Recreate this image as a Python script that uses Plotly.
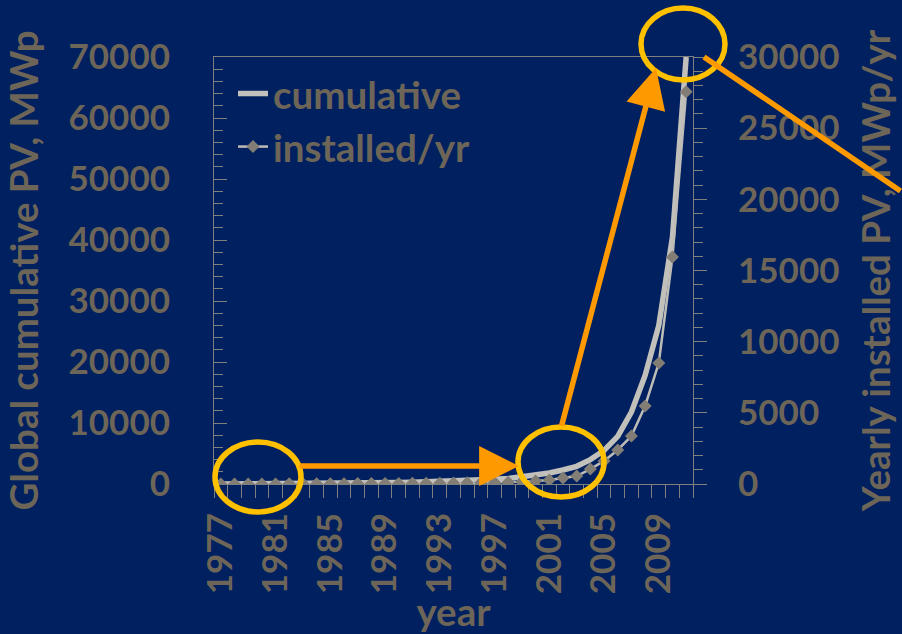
import plotly.graph_objects as go

# ---------------- data ----------------
years = list(range(1977, 2012))
cumulative = [2, 4, 6, 10, 16, 25, 40, 60, 80, 100, 130, 160, 200, 240, 290, 340,
              400, 470, 550, 640, 770, 920, 1150, 1450, 1800, 2300, 2900, 4000,
              5500, 7800, 11800, 17800, 26000, 40500, 70000]
installed = [1, 2, 2, 4, 6, 9, 15, 20, 20, 20, 30, 30, 40, 40, 50, 50, 60, 70, 80,
             90, 110, 120, 150, 210, 280, 420, 560, 1050, 1620, 2390, 3370, 5480,
             8500, 15950, 27550]
tick_years = [1977, 1981, 1985, 1989, 1993, 1997, 2001, 2005, 2009]
tick_labels = [str(y) for y in tick_years]
left_ticks = [0, 10000, 20000, 30000, 40000, 50000, 60000, 70000]
left_labels = [str(v) for v in left_ticks]
right_ticks = [0, 5000, 10000, 15000, 20000, 25000, 30000]
right_labels = [str(v) for v in right_ticks]

# ---------------- style ----------------
BG = "#002060"
TXT = "#6D6658"
AX = "#7F7F7F"
FONT = "Lato"
W, H = 902, 634
L, R, T, B = 214, 693, 57, 484   # plot area in pixels


def px(x):
    return (x - L) / (R - L)


def py(y):
    return (B - y) / (B - T)


fig = go.Figure()
fig.add_trace(go.Scatter(
    x=years, y=cumulative, name="cumulative", mode="lines",
    line=dict(color="#C2C0BB", width=5.5), yaxis="y"))
fig.add_trace(go.Scatter(
    x=years, y=installed, name="installed/yr", mode="lines+markers",
    line=dict(color="#BEBCB7", width=2.5),
    marker=dict(symbol="diamond", size=10, color="#827E76"), yaxis="y2"))

tickfont = dict(family=FONT, size=35, color=TXT, weight="bold")
titlefont = dict(family=FONT, size=38.5, color=TXT, weight="bold")

fig.update_layout(
    width=W, height=H,
    margin=dict(l=L, r=W - R, t=T, b=H - B, pad=0, autoexpand=False),
    paper_bgcolor=BG, plot_bgcolor=BG,
    showlegend=True,
    legend=dict(x=px(233), y=py(62), xanchor="left", yanchor="top",
                bgcolor="rgba(0,0,0,0)", font=dict(family=FONT, size=38.5, color=TXT, weight="bold"),
                itemwidth=30, tracegroupgap=0),
    xaxis=dict(range=[1976.5, 2011.5], tickmode="array", tickvals=tick_years,
               ticktext=tick_labels, tickangle=-90, tickfont=tickfont,
               ticks="", ticklabelstandoff=14, automargin=False,
               minor=dict(tick0=1976.5, dtick=1, ticks="outside", ticklen=13,
                          tickcolor=AX, tickwidth=1),
               showline=True, linecolor=AX, linewidth=1, mirror=True,
               showgrid=False, zeroline=False,
               title=dict(text="year", font=titlefont, standoff=12)),
    yaxis=dict(range=[0, 70000], tickmode="array", tickvals=left_ticks,
               ticktext=left_labels, automargin=False,
               tickfont=tickfont, ticks="inside", ticklen=13, tickcolor=AX,
               ticklabelstandoff=36,
               minor=dict(dtick=2000, ticks="inside", ticklen=9, tickcolor=AX),
               showline=True, linecolor=AX, linewidth=1,
               showgrid=False, zeroline=False,
               title=dict(text="Global cumulative PV, MWp", font=titlefont, standoff=24)),
    yaxis2=dict(range=[0, 30000], tickmode="array", tickvals=right_ticks,
                ticktext=right_labels, automargin=False,
                overlaying="y", side="right", anchor="x",
                tickfont=tickfont, ticks="outside", ticklen=13, tickcolor=AX,
                ticklabelstandoff=24,
                minor=dict(dtick=1000, ticks="outside", ticklen=9, tickcolor=AX),
                showline=True, linecolor=AX, linewidth=1,
                showgrid=False, zeroline=False,
                title=dict(text="Yearly installed PV, MWp/yr", font=titlefont, standoff=24)),
)

# yellow ellipses
ELL = "#FFC000"
for (cx, cy, rx, ry) in [(258, 477, 43, 35), (561, 462, 43, 35), (683, 44, 42, 36)]:
    fig.add_shape(type="circle", xref="paper", yref="paper",
                  x0=px(cx - rx), x1=px(cx + rx), y0=py(cy + ry), y1=py(cy - ry),
                  line=dict(color=ELL, width=5.5), layer="above")

# orange arrows
ORG = "#FF9900"
arrows = [((519, 466), (298, 466), 2), ((656, 68), (561, 428), 2), ((704, 57), (912, 192), 0)]
for (tip, tail, head) in arrows:
    fig.add_annotation(xref="paper", yref="paper", x=px(tip[0]), y=py(tip[1]),
                       ax=tail[0] - tip[0], ay=tail[1] - tip[1],
                       text=" ", font=dict(size=1), showarrow=True,
                       arrowhead=head, arrowsize=1.45, arrowwidth=5.5, arrowcolor=ORG,
                       standoff=0, startstandoff=0)

fig.write_html("out.html")
